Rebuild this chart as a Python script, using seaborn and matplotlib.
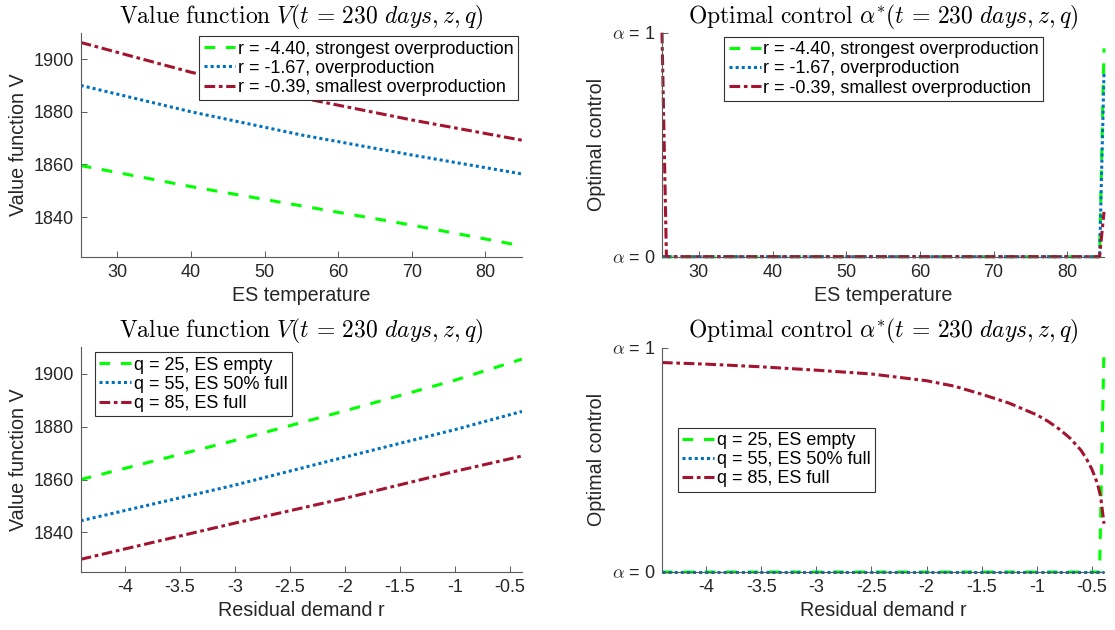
import matplotlib
matplotlib.use('Agg')
import matplotlib.pyplot as plt
import seaborn as sns

# ---- data ----
# value function vs ES temperature (t = 230 days)
temp_pts = [25, 40, 55, 70, 85]
v_r440 = [1859.6, 1851.6, 1844.3, 1837.0, 1829.1]
v_r167 = [1890.0, 1880.0, 1871.2, 1863.6, 1856.4]
v_r039 = [1906.3, 1895.0, 1885.3, 1876.9, 1869.2]

# value function vs residual demand
r_pts = [-4.40, -3.0, -2.0, -1.0, -0.39]
v_q25 = [1860.0, 1874.8, 1886.0, 1897.6, 1905.6]
v_q55 = [1844.4, 1857.9, 1868.5, 1878.9, 1885.8]
v_q85 = [1829.8, 1843.5, 1852.9, 1863.1, 1868.9]

# optimal control vs ES temperature
a_r440_x = [25, 84.4, 85]
a_r440_y = [0, 0, 0.93]
a_r167_x = [25, 84.4, 85]
a_r167_y = [0, 0, 0.82]
a_r039_x = [25, 25.6, 84.4, 85]
a_r039_y = [1, 0, 0, 0.20]

# optimal control vs residual demand
a_q25_x = [-4.40, -0.43, -0.39]
a_q25_y = [0, 0, 1]
a_q55_x = [-4.40, -0.39]
a_q55_y = [0, 0]
a_q85_x = [-4.40, -4.0, -3.5, -3.0, -2.5, -2.0, -1.75, -1.5, -1.25, -1.0, -0.9,
           -0.8, -0.7, -0.6, -0.55, -0.5, -0.45, -0.42, -0.39]
a_q85_y = [0.933, 0.926, 0.914, 0.899, 0.882, 0.852, 0.828, 0.792, 0.752, 0.700, 0.672,
           0.638, 0.597, 0.543, 0.505, 0.458, 0.395, 0.335, 0.215]

labels_r = ['r = -4.40, strongest overproduction', 'r = -1.67, overproduction',
            'r = -0.39, smallest overproduction']
labels_q = ['q = 25, ES empty', 'q = 55, ES 50% full', 'q = 85, ES full']

temp_ticks = [30, 40, 50, 60, 70, 80]
r_ticks = [-4, -3.5, -3, -2.5, -2, -1.5, -1, -0.5]
r_ticklabels = ['-4', '-3.5', '-3', '-2.5', '-2', '-1.5', '-1', '-0.5']
v_ticks = [1840, 1860, 1880, 1900]

# ---- styling ----
sns.set_style('ticks')
plt.rcParams['font.family'] = ['Liberation Sans', 'DejaVu Sans']
plt.rcParams['mathtext.fontset'] = 'cm'
plt.rcParams['axes.unicode_minus'] = False

GREEN = '#00ff00'
BLUE = '#0072bd'
RED = '#a2142f'
LW = 2.2
STYLES = [(GREEN, (0, (3.5, 3.5))), (BLUE, (0, (1, 1))), (RED, (0, (3.5, 1.2, 1.2, 1.2)))]
AX_COL = '#5a5a5a'
TXT_COL = '#262626'

fig = plt.figure(figsize=(11.15, 6.3), dpi=100)
W, H = 1115, 630


def add_ax(x0, y0, x1, y1):
    return fig.add_axes([x0 / W, 1 - y1 / H, (x1 - x0) / W, (y1 - y0) / H])


ax_tl = add_ax(80.7, 32.7, 522, 256.7)
ax_tr = add_ax(662, 32.7, 1104, 256.7)
ax_bl = add_ax(80.7, 347.5, 522, 572)
ax_br = add_ax(662, 347.5, 1104, 572)


def draw(ax, xs, ys, labels, clip=True):
    for (col, ls), x, y, lab in zip(STYLES, xs, ys, labels):
        sns.lineplot(x=x, y=y, ax=ax, color=col, linewidth=LW, linestyle=ls,
                     label=lab, estimator=None, sort=False, clip_on=clip)


draw(ax_tl, [temp_pts] * 3, [v_r440, v_r167, v_r039], labels_r)
draw(ax_bl, [r_pts] * 3, [v_q25, v_q55, v_q85], labels_q)
draw(ax_tr, [a_r440_x, a_r167_x, a_r039_x], [a_r440_y, a_r167_y, a_r039_y], labels_r, clip=False)
draw(ax_br, [a_q25_x, a_q55_x, a_q85_x], [a_q25_y, a_q55_y, a_q85_y], labels_q, clip=False)

title_v = r'$\mathrm{Value\ function}\ V(t\,=\,230\ days, z, q)$'
title_a = r'$\mathrm{Optimal\ control}\ \alpha^{*}(t\,=\,230\ days, z, q)$'

for ax in [ax_tl, ax_tr]:
    ax.set_xlim(25, 85)
    ax.set_xticks(temp_ticks)
    ax.set_xlabel('ES temperature')
for ax in [ax_bl, ax_br]:
    ax.set_xlim(-4.40, -0.39)
    ax.set_xticks(r_ticks)
    ax.set_xticklabels(r_ticklabels)
    ax.set_xlabel('Residual demand r')
for ax in [ax_tl, ax_bl]:
    ax.set_ylim(1825, 1910)
    ax.set_yticks(v_ticks)
    ax.set_ylabel('Value function V')
    ax.set_title(title_v, fontsize=17, color='black', pad=7)
for ax in [ax_tr, ax_br]:
    ax.set_ylim(0, 1)
    ax.set_yticks([0, 1])
    ax.set_yticklabels([r'$\alpha$ = 0', r'$\alpha$ = 1'])
    ax.set_ylabel('Optimal control')
    ax.set_title(title_a, fontsize=17, color='black', pad=7)

for ax in [ax_tl, ax_tr, ax_bl, ax_br]:
    sns.despine(ax=ax)
    for s in ['left', 'bottom']:
        ax.spines[s].set_color(AX_COL)
        ax.spines[s].set_linewidth(0.8)
    ax.tick_params(direction='in', length=4, width=0.7, color=AX_COL,
                   labelsize=13, labelcolor=TXT_COL, pad=5)
    ax.xaxis.label.set_size(14.2)
    ax.yaxis.label.set_size(14.2)
    ax.xaxis.label.set_color(TXT_COL)
    ax.yaxis.label.set_color(TXT_COL)
    ax.set_facecolor('white')

leg_kw = dict(fontsize=13, handlelength=1.75, handletextpad=0.15, labelspacing=0.12,
              borderpad=0.25, borderaxespad=0, fancybox=False, framealpha=1,
              edgecolor='#333333')
for ax, loc, anchor in [(ax_tl, 'upper right', (0.991, 0.985)),
                        (ax_tr, 'upper center', (0.502, 0.982)),
                        (ax_bl, 'upper left', (0.032, 0.98)),
                        (ax_br, 'center left', (0.036, 0.5))]:
    leg = ax.legend(loc=loc, bbox_to_anchor=anchor, **leg_kw)
    leg.get_frame().set_linewidth(0.8)
    for t in leg.get_texts():
        t.set_color('black')

plt.savefig('out.png', dpi=100)
plt.close()
